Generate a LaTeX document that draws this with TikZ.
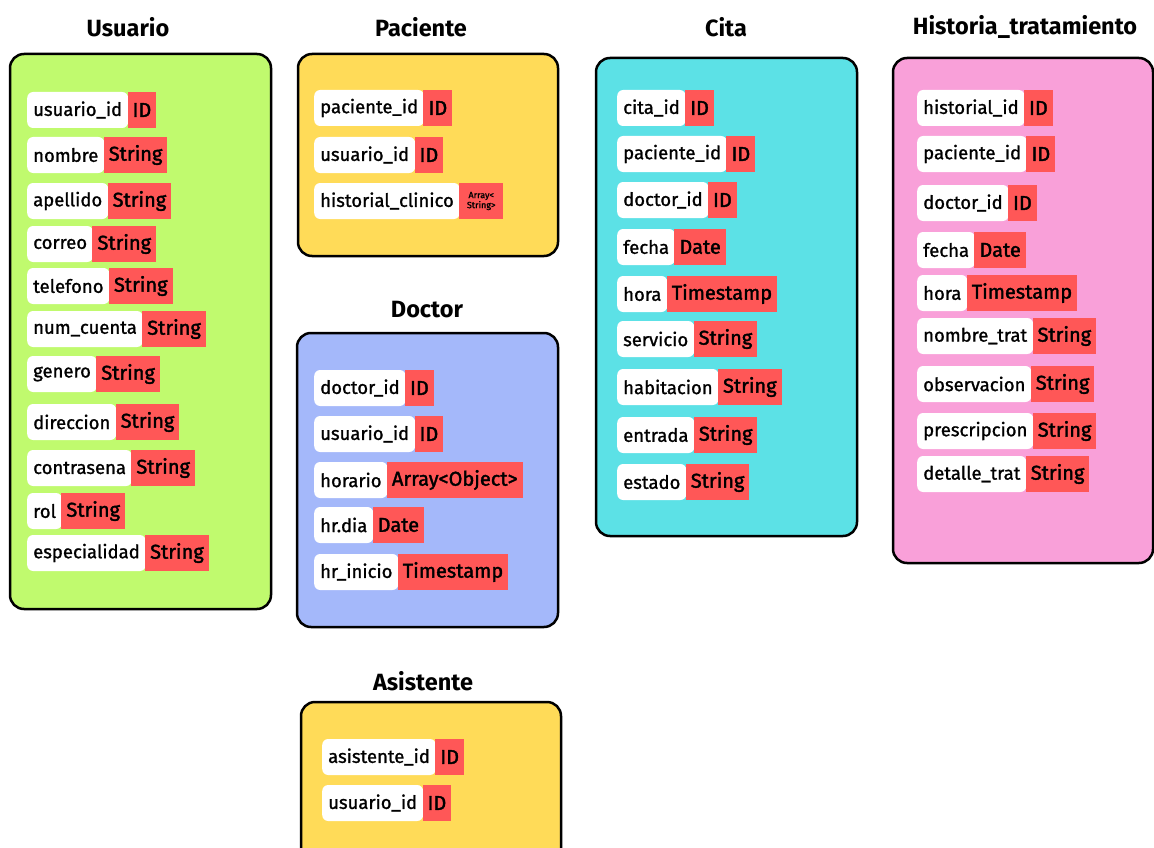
\documentclass[tikz,border=0pt]{standalone}
\usepackage{fontspec}
\setmainfont{Fira Sans}
\newfontfamily\medio{Fira Sans}[FakeBold=1.2]
\newfontfamily\grueso{Fira Sans}[FakeBold=1.8]
\usetikzlibrary{positioning}
\definecolor{verde}{RGB}{192,250,110}
\definecolor{amarillo}{RGB}{255,219,88}
\definecolor{azul}{RGB}{164,184,250}
\definecolor{cian}{RGB}{92,225,230}
\definecolor{rosa}{RGB}{249,160,217}
\definecolor{rojo}{RGB}{255,87,87}
\tikzset{
  tabla/.style={draw=black, line width=2.5pt, rounded corners=14pt},
  titulo/.style={font=\fontsize{23.5}{27}\selectfont\bfseries},
  campo/.style={fill=white, rounded corners=6pt, anchor=west, minimum height=36pt,
    inner xsep=6pt, inner ysep=0pt, font=\fontsize{18.5}{20}\selectfont\medio},
  tipo/.style={fill=rojo, minimum height=36pt, inner xsep=5pt, inner ysep=0pt,
    font=\fontsize{20}{22}\selectfont\grueso},
}

\begin{document}
\begin{tikzpicture}[x=1pt,y=-1pt]
    \useasboundingbox (0,0) rectangle (1154,848);
    % tablas
    \draw[tabla, fill=verde] (10,54) rectangle (271,609);
    \draw[tabla, fill=amarillo] (298,54) rectangle (558,256);
    \draw[tabla, fill=azul] (297,333) rectangle (558,627);
    \draw[tabla, fill=amarillo] (301,702) rectangle (561,880);
    \draw[tabla, fill=cian] (596,58) rectangle (857,536);
    \draw[tabla, fill=rosa] (893,58) rectangle (1153,563);
    % titulos
    \node[titulo] (t-usuario) at (128,27) {Usuario};
    \node[titulo] (t-paciente) at (421,27) {Paciente};
    \node[titulo] (t-doctor) at (427,310) {Doctor};
    \node[titulo] (t-asistente) at (423,681) {Asistente};
    \node[titulo] (t-cita) at (726,27) {Cita};
    \node[titulo] (t-historia) at (1025,27) {Historia\_tratamiento};
    % Usuario
    \foreach \y/\f/\t [count=\i] in {110/usuario\_id/ID, 155/nombre/String,
        201/apellido/String, 244/correo/String, 286/telefono/String,
        329/num\_cuenta/String, 374/genero/String, 422/direccion/String,
        468/contrasena/String, 511/rol/String, 553/especialidad/String}
      {\node[campo] (u-\i) at (27,\y) {\f};
       \node[tipo, right=-1pt of u-\i] (u-\i-t) {\t};}
    % Paciente
    \foreach \y/\f/\t [count=\i] in {108/paciente\_id/ID, 155/usuario\_id/ID}
      {\node[campo] (p-\i) at (314,\y) {\f};
       \node[tipo, right=-1pt of p-\i] (p-\i-t) {\t};}
    \node[campo] (p-3) at (314,201) {historial\_clinico};
    \node[tipo, right=-1pt of p-3, font=\fontsize{9}{10}\selectfont\medio, align=center,
      minimum width=44pt] (p-3-t) {Array<\\String>};
    % Doctor
    \foreach \y/\f/\t [count=\i] in {388/doctor\_id/ID, 434/usuario\_id/ID,
        480/horario/Array<Object>, 525/hr.dia/Date, 572/hr\_inicio/Timestamp}
      {\node[campo] (d-\i) at (314,\y) {\f};
       \node[tipo, right=-1pt of d-\i] (d-\i-t) {\t};}
    % Asistente
    \foreach \y/\f/\t [count=\i] in {757/asistente\_id/ID, 803/usuario\_id/ID}
      {\node[campo] (a-\i) at (322,\y) {\f};
       \node[tipo, right=-1pt of a-\i] (a-\i-t) {\t};}
    % Cita
    \foreach \y/\f/\t [count=\i] in {108/cita\_id/ID, 154/paciente\_id/ID,
        200/doctor\_id/ID, 247/fecha/Date, 294/hora/Timestamp,
        339/servicio/String, 387/habitacion/String, 435/entrada/String,
        482/estado/String}
      {\node[campo] (c-\i) at (617,\y) {\f};
       \node[tipo, right=-1pt of c-\i] (c-\i-t) {\t};}
    % Historia_tratamiento
    \foreach \y/\f/\t [count=\i] in {108/historial\_id/ID, 154/paciente\_id/ID,
        203/doctor\_id/ID, 250/fecha/Date, 293/hora/Timestamp,
        336/nombre\_trat/String, 384/observacion/String,
        431/prescripcion/String, 474/detalle\_trat/String}
      {\node[campo] (h-\i) at (917,\y) {\f};
       \node[tipo, right=-1pt of h-\i] (h-\i-t) {\t};}
\end{tikzpicture}
\end{document}
